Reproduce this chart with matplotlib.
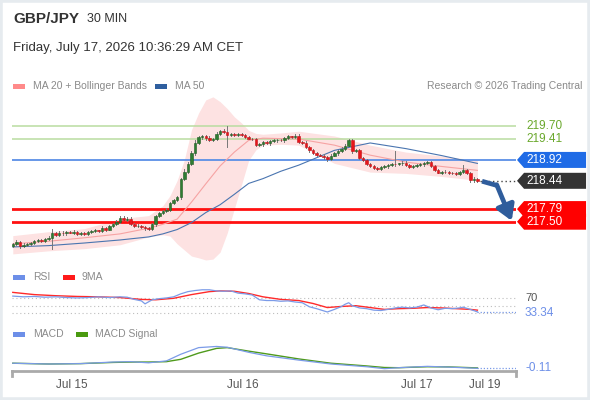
import matplotlib
matplotlib.use("Agg")
import matplotlib.pyplot as plt
from matplotlib.patches import Rectangle, Polygon
from matplotlib.transforms import blended_transform_factory
import numpy as np

plt.rcParams['font.family'] = ['Liberation Sans', 'DejaVu Sans']

# ---- data ----
first_open = 216.95
closes = [
    216.98, 217.04, 216.93, 216.97, 216.99, 217.01, 217.05, 217.08, 217.06, 217.10,
    217.13, 217.24, 217.20, 217.25, 217.23, 217.26, 217.25, 217.27, 217.22, 217.24,
    217.22, 217.26, 217.28, 217.30, 217.29, 217.35, 217.32, 217.40, 217.44, 217.50,
    217.58, 217.55, 217.57, 217.45, 217.40, 217.41, 217.37, 217.35, 217.33, 217.44,
    217.62, 217.70, 217.74, 217.78, 217.92, 218.00, 218.06, 218.48, 218.65, 218.83,
    219.08, 219.32, 219.44, 219.46, 219.42, 219.38, 219.40, 219.52, 219.58, 219.57,
    219.49, 219.51, 219.50, 219.52, 219.50, 219.45, 219.41, 219.40, 219.27, 219.28,
    219.33, 219.30, 219.36, 219.37, 219.38, 219.37, 219.42, 219.46, 219.45, 219.48,
    219.33, 219.32, 219.22, 219.14, 219.08, 219.04, 219.02, 218.98, 218.93, 219.02,
    219.07, 219.12, 219.18, 219.25, 219.37, 219.12, 219.14, 218.97, 218.92, 218.82,
    218.78, 218.74, 218.72, 218.76, 218.77, 218.80, 218.83, 218.82, 218.84, 218.86,
    218.80, 218.76, 218.79, 218.80, 218.82, 218.84, 218.87, 218.78, 218.70, 218.63,
    218.65, 218.64, 218.62, 218.61, 218.60, 218.64, 218.68, 218.62, 218.45, 218.48, 218.44,
]
wick_up = [
    .03, .03, .02, .03, .02, .03, .02, .03, .02, .03,
    .03, .10, .03, .04, .03, .02, .03, .03, .02, .03,
    .02, .03, .02, .03, .02, .04, .03, .03, .04, .03,
    .05, .04, .03, .03, .02, .03, .02, .02, .03, .03,
    .04, .03, .03, .04, .04, .03, .04, .03, .05, .04,
    .04, .05, .04, .04, .03, .04, .03, .04, .03, .04,
    .13, .03, .03, .02, .03, .02, .03, .02, .03, .03,
    .02, .03, .02, .03, .02, .03, .02, .03, .02, .03,
    .03, .02, .03, .02, .03, .02, .02, .03, .02, .03,
    .03, .02, .03, .04, .03, .03, .02, .03, .02, .03,
    .02, .03, .02, .02, .03, .02, .03, .29, .02, .03,
    .03, .02, .02, .03, .02, .03, .03, .02, .03, .02,
    .02, .03, .02, .02, .03, .02, .12, .04, .03, .04, .03,
]
wick_dn = [
    .03, .02, .03, .02, .03, .02, .03, .02, .03, .02,
    .03, .25, .03, .02, .03, .03, .02, .03, .03, .02,
    .03, .02, .03, .02, .03, .02, .03, .02, .03, .02,
    .03, .02, .03, .03, .02, .03, .02, .03, .03, .02,
    .03, .02, .03, .02, .03, .02, .03, .04, .03, .04,
    .03, .04, .03, .03, .04, .03, .03, .02, .03, .03,
    .27, .02, .03, .02, .03, .03, .02, .03, .03, .02,
    .03, .02, .03, .02, .03, .02, .03, .02, .03, .02,
    .02, .03, .02, .03, .02, .03, .02, .03, .03, .02,
    .02, .03, .02, .03, .02, .03, .02, .03, .03, .02,
    .03, .02, .03, .02, .02, .03, .02, .03, .02, .03,
    .02, .03, .02, .03, .02, .03, .02, .03, .03, .02,
    .03, .02, .03, .02, .03, .02, .03, .02, .04, .03, .03,
]

bb_idx = [0, 10, 20, 30, 38, 42, 44, 46, 48, 50, 52, 54, 56, 58, 60, 62, 64, 66, 68,
          70, 75, 80, 90, 100, 110, 120, 130]
bb_upper = [217.18, 217.27, 217.34, 217.57, 217.64, 217.87, 218.10, 218.45, 218.92, 219.61,
            220.00, 220.30, 220.37, 220.26, 220.10, 219.91, 219.77, 219.60, 219.53,
            219.51, 219.54, 219.58, 219.47, 219.26, 219.10, 219.01, 218.91]
bb_lower = [216.76, 216.83, 216.88, 216.97, 217.15, 217.20, 217.17, 216.99, 216.85, 216.71,
            216.67, 216.62, 216.64, 216.80, 217.24, 217.80, 218.35, 218.91, 219.15,
            219.26, 219.28, 219.26, 218.84, 218.64, 218.61, 218.54, 218.45]

ma_idx = [0, 10, 20, 30, 38, 42, 46, 50, 54, 58, 62, 66, 70, 75, 80, 90, 100, 110, 120, 130]
ma20 = [216.99, 217.05, 217.13, 217.22, 217.35, 217.44, 217.56, 217.95, 218.37, 218.78,
        219.10, 219.37, 219.42, 219.41, 219.40, 219.26, 219.03, 218.87, 218.77, 218.68]
ma50 = [216.92, 216.95, 217.01, 217.08, 217.15, 217.22, 217.32, 217.48, 217.71, 217.89,
        218.13, 218.38, 218.49, 218.66, 218.80, 219.14, 219.31, 219.18, 219.02, 218.84]

resistances = [219.70, 219.41]
pivot = 218.92
last_price = 218.44
supports = [217.79, 217.50]

rsi_idx = [0, 3, 6, 9, 12, 15, 18, 21, 24, 27, 30, 32, 34, 36, 37, 39, 41, 43, 45, 47,
           49, 51, 53, 55, 57, 59, 61, 63, 65, 67, 69, 71, 73, 75, 77, 79, 81, 83, 85, 87,
           88, 90, 92, 93, 94, 95, 97, 99, 101, 103, 105, 107, 109, 111, 113, 115, 117, 119,
           121, 123, 125, 126, 128, 130]
rsi = [76, 74, 75, 73, 74, 72, 71, 72, 74, 72, 74, 73, 67, 63, 55, 66, 69, 71, 74, 82,
       88, 91, 93, 93, 90, 89, 90, 84, 82, 79, 66, 64, 64, 62, 63, 60, 58, 47, 42, 36,
       33, 40, 48, 54, 58, 50, 44, 42, 38, 37, 40, 44, 46, 44, 46, 52, 44, 39,
       43, 42, 44, 46, 40, 33.34]
ma9_idx = [0, 6, 12, 18, 24, 30, 36, 40, 45, 50, 55, 58, 62, 66, 70, 75, 80, 84, 88, 92,
           96, 100, 104, 108, 112, 116, 120, 124, 128, 130]
rsi_ma9 = [86, 80, 77, 75, 74, 72, 67, 66, 70, 80, 88, 90, 89, 83, 74, 67, 64, 56, 45, 48,
           50, 45, 40, 42, 43, 45, 44, 42, 40, 38]

macd_idx = [0, 10, 19, 28, 33, 38, 43, 47, 52, 57, 60, 66, 71, 80, 89, 99, 104, 108, 116, 122, 130]
macd = [0.02, 0.00, 0.01, 0.05, 0.06, 0.03, 0.08, 0.25, 0.42, 0.45, 0.43, 0.30, 0.21, 0.10,
        0.00, -0.07, -0.12, -0.095, -0.06, -0.08, -0.11]
macd_signal = [0.02, 0.00, 0.01, 0.04, 0.05, 0.05, 0.06, 0.12, 0.28, 0.40, 0.42, 0.33, 0.26,
               0.13, 0.02, -0.05, -0.09, -0.095, -0.07, -0.075, -0.10]

date_pos = [16.5, 64.5, 113, 132]
date_labels = ['Jul 15', 'Jul 16', 'Jul 17', 'Jul 19']

# ---- figure ----
W, H = 590, 400
fig = plt.figure(figsize=(W / 100, H / 100), dpi=100)
fig.patch.set_facecolor('white')

def fx(px):
    return px / W

def fy(py):
    return 1 - py / H

XMIN, XMAX = -0.22, 140.8
ax = fig.add_axes([fx(12), fy(265), fx(504), 170 / H])
ax.set_xlim(XMIN, XMAX)
ax.set_ylim(219.70 - 139 / 43.5, 219.70 + 31 / 43.5)
ax.axis('off')

n = len(closes)
opens = [first_open] + closes[:-1]

# bollinger band + moving averages
ax.fill_between(bb_idx, bb_lower, bb_upper, color='#fde2e2', lw=0, zorder=1)
ax.plot(ma_idx, ma20, color='#f6a3a3', lw=0.8, zorder=2)
ax.plot(ma_idx, ma50, color='#4a75b0', lw=0.8, zorder=2)

# levels
for r in resistances:
    ax.axhline(r, color='#b9dca0', lw=1.1, zorder=1.5)
ax.axhline(pivot, color='#5b8fe6', lw=1.3, zorder=1.5)
for s in supports:
    ax.axhline(s, color='#ff1010', lw=2, zorder=1.5)

# candles
for i in range(n):
    o, c = opens[i], closes[i]
    up = c >= o
    col = '#2e7d32' if up else '#e8151b'
    ec = '#1d5a20' if up else '#c01015'
    hi = max(o, c) + wick_up[i]
    lo = min(o, c) - wick_dn[i]
    ax.plot([i, i], [lo, hi], color='#777777', lw=0.7, zorder=3)
    h = max(abs(c - o), 0.012)
    ax.add_patch(Rectangle((i - 0.35, min(o, c)), 0.7, h, facecolor=col,
                           edgecolor=ec, lw=0.4, zorder=4))

# last price dotted
ax.plot([n - 0.4, XMAX], [last_price, last_price], color='#444444', lw=1,
        ls=(0, (1, 2)), zorder=3)

# forecast arrow
ax.plot([131.3, 135.6], [218.43, 218.33], color='#2f5d9c', lw=3.4,
        solid_capstyle='butt', zorder=5)
ax.annotate('', xy=(139.6, 217.52), xytext=(135.4, 218.35),
            arrowprops=dict(arrowstyle='-|>,head_width=0.55,head_length=0.9',
                            color='#2f5d9c', lw=3.4, shrinkA=0, shrinkB=0),
            zorder=5, annotation_clip=False)

# price labels on the right
tr = blended_transform_factory(ax.transAxes, ax.transData)
hh = 8 / 43.5

def price_box(p, color):
    pts = [(1.002, p), (1.016, p + hh), (1.139, p + hh), (1.139, p - hh), (1.016, p - hh)]
    ax.add_patch(Polygon(pts, closed=True, facecolor=color, edgecolor='none',
                         transform=tr, clip_on=False, zorder=6))
    ax.text(1.020, p, f'{p:.2f}', transform=tr, color='white', fontsize=8.5,
            va='center', ha='left', zorder=7, clip_on=False)

for r in resistances:
    ax.text(1.020, r, f'{r:.2f}', transform=tr, color='#6aa82c', fontsize=8.5,
            va='center', ha='left', clip_on=False)
price_box(pivot, '#1f6be6')
price_box(last_price, '#333333')
for s in supports:
    price_box(s, '#ff0000')

# ---- RSI panel ----
ax_r = fig.add_axes([fx(12), fy(318), fx(504), 32 / H])
ax_r.set_xlim(XMIN, XMAX)
ax_r.set_ylim(70 - 19.7 / 0.37, 70 + 12.3 / 0.37)
ax_r.axis('off')
for lv in [70, 50, 30]:
    ax_r.axhline(lv, color='#bdbdbd', lw=0.8, ls=(0, (1, 2.5)))
ax_r.plot(ma9_idx, rsi_ma9, color='#ff2a2a', lw=1.0)
ax_r.plot(rsi_idx, rsi, color='#7b9be8', lw=0.9)
ax_r.plot([rsi_idx[-1], XMAX], [rsi[-1], rsi[-1]], color='#7b9be8', lw=0.9, ls=(0, (1, 1.5)))

# ---- MACD panel ----
ax_m = fig.add_axes([fx(12), fy(371), fx(504), 31 / H])
ax_m.set_xlim(XMIN, XMAX)
ax_m.set_ylim((364 - 371) / 39, (364 - 340) / 39)
for sp in ['top', 'left', 'right']:
    ax_m.spines[sp].set_visible(False)
ax_m.spines['bottom'].set_color('#aaaaaa')
ax_m.spines['bottom'].set_linewidth(2)
ax_m.set_yticks([])
ax_m.set_xticks(date_pos)
ax_m.set_xticklabels(date_labels, color='#555555', fontsize=8.5)
ax_m.tick_params(axis='x', length=0, pad=6)
ax_m.patch.set_alpha(0)
for xe in [XMIN, XMAX]:
    ax_m.plot([xe, xe], [0, -0.17], transform=blended_transform_factory(ax_m.transData, ax_m.transAxes),
              color='#aaaaaa', lw=2, clip_on=False)
ax_m.plot(macd_idx, macd_signal, color='#4f9a1c', lw=1.0)
ax_m.plot(macd_idx, macd, color='#7b9be8', lw=0.9)
ax_m.plot([macd_idx[-1], XMAX], [macd[-1], macd[-1]], color='#7b9be8', lw=0.9, ls=(0, (1, 1.5)))

# ---- texts ----
fig.text(fx(13), fy(19), 'GBP/JPY', fontsize=11, fontweight='bold', color='#333333', va='center')
fig.text(fx(87), fy(19), '30 MIN', fontsize=9, color='#333333', va='center')
fig.text(fx(13), fy(48), 'Friday, July 17, 2026 10:36:29 AM CET', fontsize=9.5,
         color='#333333', va='center')
fig.text(fx(582), fy(86), 'Research \u00a9 2026 Trading Central', fontsize=7.5,
         color='#8a8a8a', va='center', ha='right')

def legend_item(px, py, color, label, tx):
    fig.patches.append(Rectangle((fx(px), fy(py + 2.5)), fx(12), 5 / H, facecolor=color,
                                 edgecolor='none', transform=fig.transFigure, figure=fig))
    fig.text(fx(tx), fy(py), label, fontsize=7.5, color='#8a8a8a', va='center')

legend_item(13, 86, '#ff8a8a', 'MA 20 + Bollinger Bands', 33)
legend_item(155, 86, '#2f5f9f', 'MA 50', 175)
legend_item(13, 277, '#6d8fe8', 'RSI', 33)
legend_item(63, 277, '#ff1a1a', '9MA', 82)
legend_item(13, 334, '#6d8fe8', 'MACD', 33)
legend_item(76, 334, '#4a9a10', 'MACD Signal', 95)

fig.text(fx(525), fy(298), '70', fontsize=8, color='#555555', va='center')
fig.text(fx(525), fy(313), '33.34', fontsize=8.5, color='#6d8fe8', va='center')
fig.text(fx(525), fy(368), '-0.11', fontsize=8.5, color='#6d8fe8', va='center')

# outer frame
fig.patches.append(Rectangle((0, 0), 1, 1, fill=False, edgecolor='#e6ebef', lw=4,
                             transform=fig.transFigure, figure=fig))

fig.savefig('out.png', dpi=100)
